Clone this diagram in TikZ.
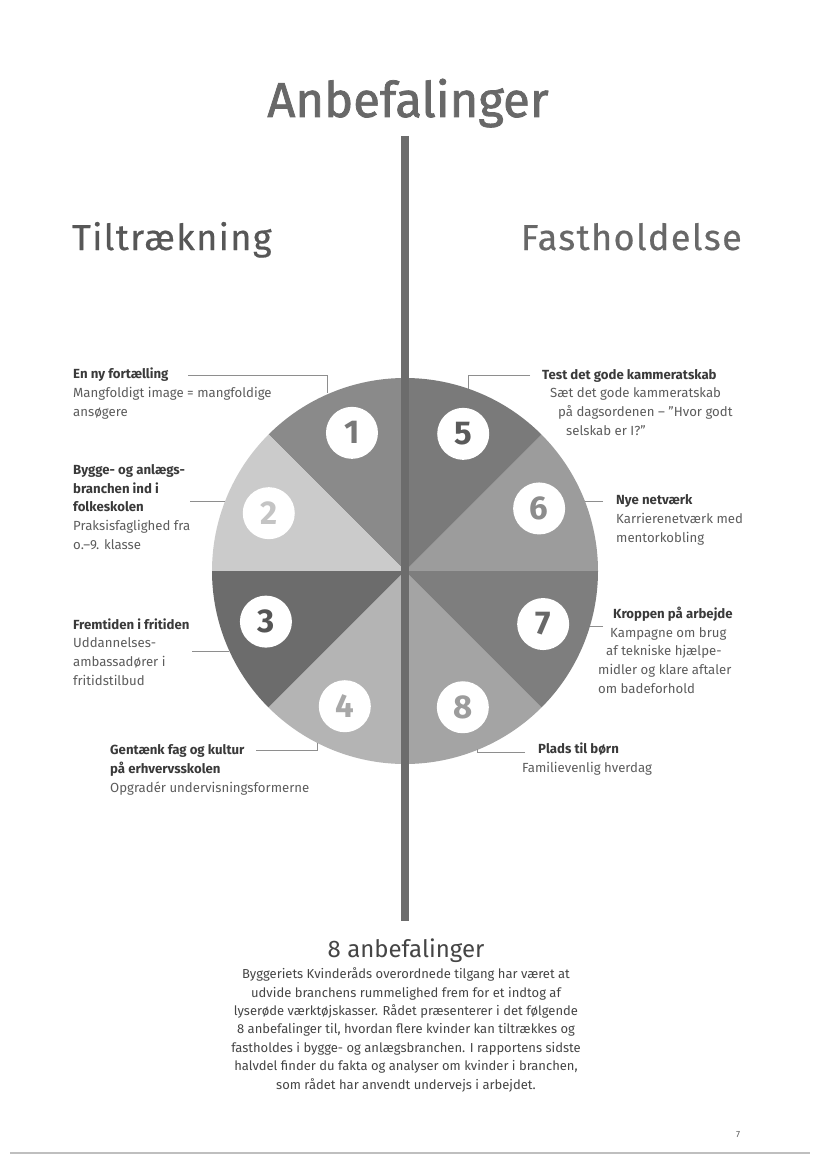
\documentclass[tikz,border=0pt]{standalone}
\usepackage{fontspec}
\setmainfont{Fira Sans}
\newfontfamily\titlefont[FakeBold=1.5]{Fira Sans}
\newfontfamily\sidefont[LetterSpace=4,FakeBold=0.5]{Fira Sans}
\definecolor{s1}{HTML}{8A8A8A}
\definecolor{s2}{HTML}{CBCBCB}
\definecolor{s3}{HTML}{6C6C6C}
\definecolor{s4}{HTML}{B4B4B4}
\definecolor{s5}{HTML}{7A7A7A}
\definecolor{s6}{HTML}{9C9C9C}
\definecolor{s7}{HTML}{7E7E7E}
\definecolor{s8}{HTML}{A4A4A4}
\definecolor{n1}{HTML}{787878}
\definecolor{n2}{HTML}{C4C4C4}
\definecolor{n3}{HTML}{555555}
\definecolor{n4}{HTML}{A8A8A8}
\definecolor{n5}{HTML}{5A5A5A}
\definecolor{n6}{HTML}{8C8C8C}
\definecolor{n7}{HTML}{686868}
\definecolor{n8}{HTML}{9C9C9C}
\definecolor{barc}{HTML}{6C6C6C}
\definecolor{head}{HTML}{3A3A3A}
\definecolor{txt}{HTML}{5C5C5C}
\definecolor{leadc}{HTML}{8E8E8E}
\definecolor{titlec}{HTML}{686868}
\definecolor{bodyc}{HTML}{454545}
\begin{document}
\begin{tikzpicture}[x=1pt,y=-1pt,
  lab/.style={anchor=base west, inner sep=0pt, align=left, text=txt,
    font=\fontsize{13.2}{18.6}\selectfont},
  lead/.style={draw=leadc, line width=0.7pt},
  num/.style={circle, fill=white, minimum size=52pt, inner sep=0pt,
    font=\fontsize{33}{33}\selectfont\bfseries},
  bar/.style={draw=barc, line width=8pt},
]
\useasboundingbox (0,0) rectangle (828,1169);
\fill[white] (0,0) rectangle (828,1169);

% titles
\node[anchor=base, inner sep=0pt, text=titlec, font=\titlefont\fontsize{49}{49}\selectfont] (title) at (408,117) {Anbefalinger};
\node[anchor=base west, inner sep=0pt, text=head!85!white, font=\sidefont\fontsize{36}{36}\selectfont] (left) at (72,250) {Tiltrækning};
\node[anchor=base east, inner sep=0pt, text=titlec, font=\sidefont\fontsize{36}{36}\selectfont] (right) at (742,250) {Fastholdelse};

% wheel
\begin{scope}[shift={(405,571)}, yscale=-1]
  \fill[s6] (0,0) -- (0:193) arc (0:45:193) -- cycle;
  \fill[s5] (0,0) -- (45:193) arc (45:90:193) -- cycle;
  \fill[s1] (0,0) -- (90:193) arc (90:135:193) -- cycle;
  \fill[s2] (0,0) -- (135:193) arc (135:180:193) -- cycle;
  \fill[s3] (0,0) -- (180:193) arc (180:225:193) -- cycle;
  \fill[s4] (0,0) -- (225:193) arc (225:270:193) -- cycle;
  \fill[s8] (0,0) -- (270:193) arc (270:315:193) -- cycle;
  \fill[s7] (0,0) -- (315:193) arc (315:360:193) -- cycle;
  \node[num, text=n1] (c1) at (111:148) {1};
  \node[num, text=n2] (c2) at (157:148) {2};
  \node[num, text=n3] (c3) at (200:148) {3};
  \node[num, text=n4] (c4) at (246:148) {4};
  \node[num, text=n5] (c5) at (67:149) {5};
  \node[num, text=n6] (c6) at (25:148) {6};
  \node[num, text=n7] (c7) at (-21:148) {7};
  \node[num, text=n8] (c8) at (-67:148) {8};
\end{scope}

% vertical bar
\coordinate (bartop) at (405,136);
\coordinate (barbot) at (405,921);
\draw[bar] (bartop) -- (barbot);

% labels (anchor = baseline of the last line)
\node[lab] (t1) at (73,416) {\textcolor{head}{\bfseries En ny fortælling}\\Mangfoldigt image = mangfoldige\\ansøgere};
\node[lab] (t2) at (73,549) {\textcolor{head}{\bfseries Bygge- og anlægs-}\\\textcolor{head}{\bfseries branchen ind i}\\\textcolor{head}{\bfseries folkeskolen}\\Praksisfaglighed fra\\o.–9. klasse};
\node[lab] (t3) at (73,685) {\textcolor{head}{\bfseries Fremtiden i fritiden}\\Uddannelses-\\ambassadører i\\fritidstilbud};
\node[lab] (t4) at (110,792) {\textcolor{head}{\bfseries Gentænk fag og kultur}\\\textcolor{head}{\bfseries på erhvervsskolen}\\Opgradér undervisningsformerne};
\node[lab] (t5) at (542,435) {\textcolor{head}{\bfseries Test det gode kammeratskab}\\\hspace*{8pt}Sæt det gode kammeratskab\\\hspace*{16pt}på dagsordenen – "Hvor godt\\\hspace*{24pt}selskab er I?"};
\node[lab] (t6) at (616,542) {\textcolor{head}{\bfseries Nye netværk}\\Karrierenetværk med\\mentorkobling};
\node[lab] (t7) at (598,693) {\hspace*{15pt}\textcolor{head}{\bfseries Kroppen på arbejde}\\\hspace*{12pt}Kampagne om brug\\\hspace*{8pt}af tekniske hjælpe-\\midler og klare aftaler\\om badeforhold};
\node[lab] (t8) at (522,772) {\hspace*{16pt}\textcolor{head}{\bfseries Plads til børn}\\Familievenlig hverdag};

% leaders
\coordinate (l1) at (188,375); \coordinate (e1) at (327,393);
\coordinate (l2) at (190,501); \coordinate (e2) at (225,501);
\coordinate (l3) at (192,651); \coordinate (e3) at (229,651);
\coordinate (l4) at (256,750); \coordinate (e4) at (317,743);
\coordinate (l5) at (530,375); \coordinate (e5) at (468,389);
\coordinate (l6) at (603,501); \coordinate (e6) at (585,501);
\coordinate (l7) at (603,626); \coordinate (e7) at (590,626);
\coordinate (l8) at (525,752); \coordinate (e8) at (477,749);
\draw[lead] (l1) -| (e1);
\draw[lead] (l2) -- (e2);
\draw[lead] (l3) -- (e3);
\draw[lead] (l4) -| (e4);
\draw[lead] (l5) -| (e5);
\draw[lead] (l6) -- (e6);
\draw[lead] (l7) -- (e7);
\draw[lead] (l8) -| (e8);

% bottom text
\node[anchor=base, inner sep=0pt, text=bodyc, font=\fontsize{24}{24}\selectfont] (sub) at (406,957) {8 anbefalinger};
\node[anchor=base, inner sep=0pt, align=center, text=bodyc, font=\fontsize{13}{18.4}\selectfont] (body) at (406,1089) {Byggeriets Kvinderåds overordnede tilgang har været at\\udvide branchens rummelighed frem for et indtog af\\lyserøde værktøjskasser. Rådet præsenterer i det følgende\\8 anbefalinger til, hvordan flere kvinder kan tiltrækkes og\\fastholdes i bygge- og anlægsbranchen. I rapportens sidste\\halvdel finder du fakta og analyser om kvinder i branchen,\\som rådet har anvendt undervejs i arbejdet.};

\node[anchor=base, inner sep=0pt, text=txt, font=\fontsize{9}{9}\selectfont] (page) at (738,1137) {7};
\coordinate (r1) at (10,1153); \coordinate (r2) at (810,1153);
\draw[draw=black!25, line width=1.2pt] (r1) -- (r2);
\end{tikzpicture}
\end{document}
